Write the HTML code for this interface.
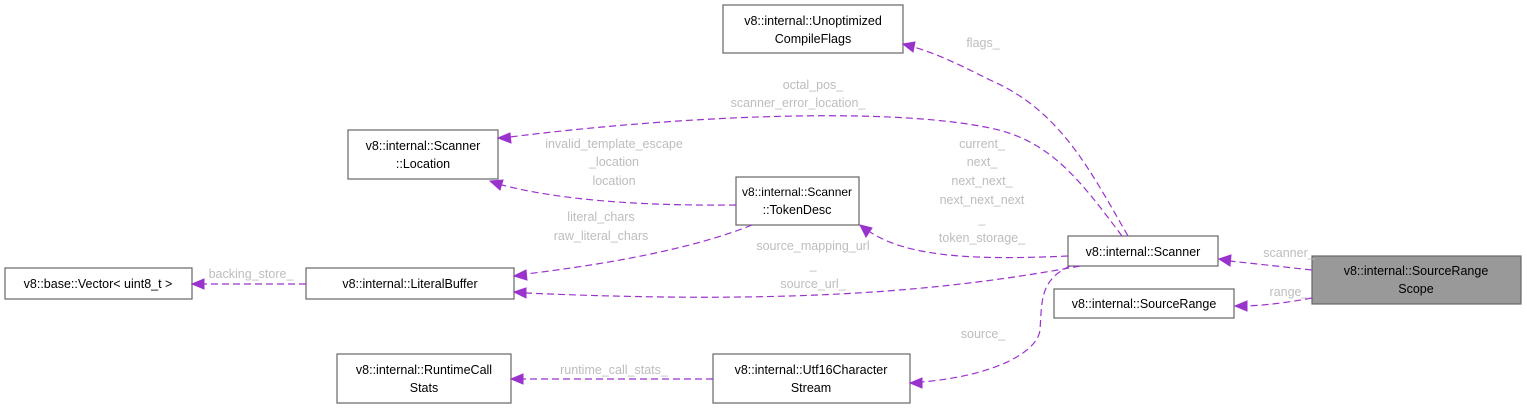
<!DOCTYPE html>
<html><head><meta charset="utf-8"><style>
html,body{margin:0;padding:0;background:#fff;}
svg{display:block;font-family:"Liberation Sans","DejaVu Sans",sans-serif;}
.n{fill:#fff;stroke:#666;stroke-width:1.2;}
.t{font-size:12.5px;fill:#000;text-anchor:middle;}
.l{font-size:12.5px;fill:#bdbdbd;text-anchor:middle;}
.e{fill:none;stroke:#9a32cd;stroke-width:1.2;stroke-dasharray:7,4;}
.a{fill:#9a32cd;stroke:#9a32cd;}
</style></head><body>
<svg width="1527" height="409" viewBox="0 0 1527 409">
<rect class="n" x="723" y="5" width="180" height="48"/>
<text class="t" x="813" y="25">v8::internal::Unoptimized</text>
<text class="t" x="813" y="43">CompileFlags</text>

<rect class="n" x="348" y="130" width="150" height="49"/>
<text class="t" x="423" y="150">v8::internal::Scanner</text>
<text class="t" x="423" y="168">::Location</text>

<rect class="n" x="736" y="177" width="123" height="48"/>
<text class="t" x="797" y="196" style="font-size:12px">v8::internal::Scanner</text>
<text class="t" x="797" y="214">::TokenDesc</text>

<rect class="n" x="1068" y="236" width="150" height="30"/>
<text class="t" x="1143" y="256">v8::internal::Scanner</text>

<rect class="n" x="1054" y="289" width="180" height="29"/>
<text class="t" x="1144" y="308">v8::internal::SourceRange</text>

<rect x="1312" y="256" width="209" height="48" fill="#999" stroke="#666" stroke-width="1.2"/>
<text class="t" x="1416" y="275">v8::internal::SourceRange</text>
<text class="t" x="1416" y="293">Scope</text>

<rect class="n" x="306" y="268" width="208" height="31"/>
<text class="t" x="410" y="288">v8::internal::LiteralBuffer</text>

<rect class="n" x="5" y="268" width="187" height="31"/>
<text class="t" x="98" y="288">v8::base::Vector&lt; uint8_t &gt;</text>

<rect class="n" x="337" y="354" width="174" height="49"/>
<text class="t" x="424" y="374">v8::internal::RuntimeCall</text>
<text class="t" x="424" y="392">Stats</text>

<rect class="n" x="713" y="354" width="197" height="49"/>
<text class="t" x="811" y="374">v8::internal::Utf16Character</text>
<text class="t" x="811" y="392">Stream</text>

<path class="e" d="M1312,270 L1230,261"/>
<polygon class="a" points="1219,259 1231,255 1230,266"/>
<text class="l" x="1289" y="257">scanner_</text>

<path class="e" d="M1312,298 C1290,302 1270,305 1246,306"/>
<polygon class="a" points="1235,306 1247,301 1247,311"/>
<text class="l" x="1289" y="296">range_</text>

<path class="e" d="M1128,236 C1090,170 1060,110 990,80 C960,65 940,55 914,47"/>
<polygon class="a" points="903,44 915,42 913,52"/>
<text class="l" x="983" y="47">flags_</text>

<path class="e" d="M1122,236 C1080,180 1050,140 990,128 C880,105 660,118 510,137"/>
<polygon class="a" points="498,138 510,133 511,143"/>
<text class="l" x="813" y="89">octal_pos_</text>
<text class="l" x="798" y="107">scanner_error_location_</text>

<path class="e" d="M736,205 C640,206 560,200 502,185"/>
<polygon class="a" points="490,181 503,180 500,190"/>
<text class="l" x="614" y="148">invalid_template_escape</text>
<text class="l" x="614" y="166">_location</text>
<text class="l" x="614" y="185">location</text>

<path class="e" d="M752,225 C690,250 600,265 526,274"/>
<polygon class="a" points="514,276 526,270 527,280"/>
<text class="l" x="601" y="221">literal_chars</text>
<text class="l" x="601" y="240">raw_literal_chars</text>

<path class="e" d="M1068,256 C980,260 910,258 870,232"/>
<polygon class="a" points="860,225 872,228 866,237"/>
<text class="l" x="982" y="148">current_</text>
<text class="l" x="982" y="166">next_</text>
<text class="l" x="982" y="185">next_next_</text>
<text class="l" x="982" y="204">next_next_next</text>
<text class="l" x="982" y="223">_</text>
<text class="l" x="982" y="242">token_storage_</text>

<path class="e" d="M1080,266 C950,290 800,305 526,293"/>
<polygon class="a" points="514,292 526,288 526,298"/>
<text class="l" x="813" y="250">source_mapping_url</text>
<text class="l" x="813" y="269">_</text>
<text class="l" x="813" y="288">source_url_</text>

<path class="e" d="M1070,266 C1040,280 1042,300 1040,330 C1038,350 1000,375 922,382"/>
<polygon class="a" points="910,383 922,378 922,388"/>
<text class="l" x="983" y="338">source_</text>

<path class="e" d="M713,379 L523,379"/>
<polygon class="a" points="511,379 523,374 523,384"/>
<text class="l" x="614" y="374">runtime_call_stats_</text>

<path class="e" d="M306,284 L204,284"/>
<polygon class="a" points="192,284 204,279 204,289"/>
<text class="l" x="251" y="278">backing_store_</text>
</svg>
</body></html>
